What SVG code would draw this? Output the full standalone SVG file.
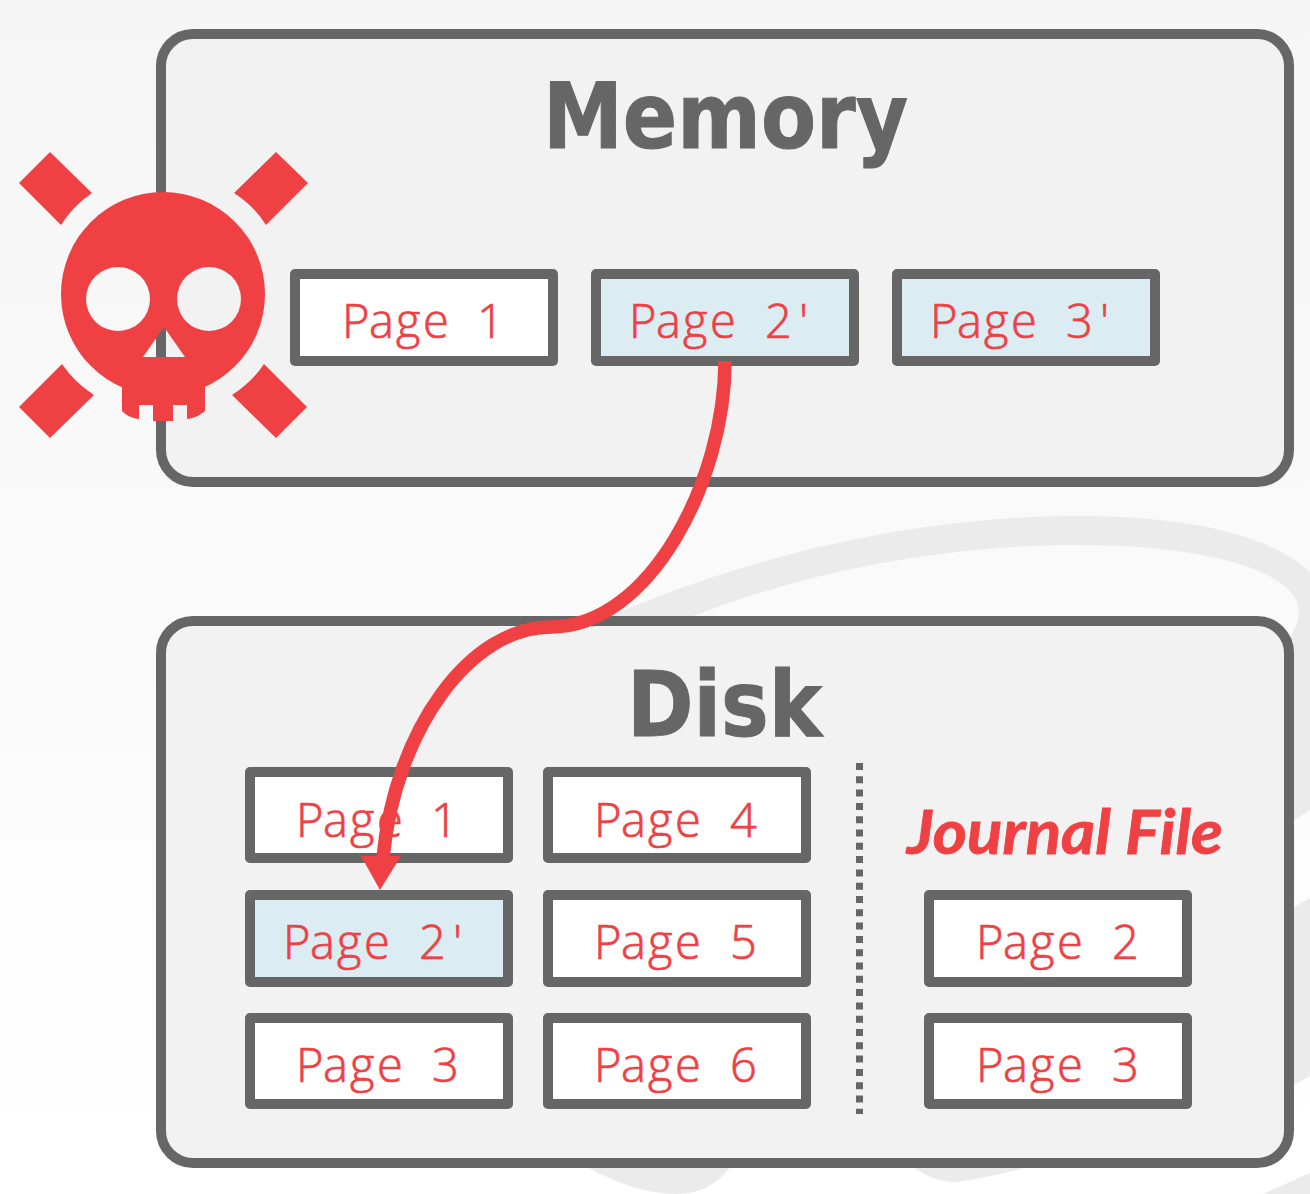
<svg xmlns="http://www.w3.org/2000/svg" width="1310" height="1194" viewBox="0 0 1310 1194">
<style>
.region{fill:#f2f2f2;stroke:#666;stroke-width:10}
.page{fill:#fff;stroke:#666;stroke-width:10;stroke-linejoin:round}
.mod{fill:#dbedf3}
.pt{font-family:"Open Sans",sans-serif;font-size:47px;font-weight:300;fill:#ef4044;stroke:#ef4044;stroke-width:.7;transform:translate(-1px,1px)}
.title{font-family:"DejaVu Sans",sans-serif;font-weight:700;font-size:90px;fill:#666;stroke:#666;stroke-width:1}
.red{fill:#ef4044}
</style>
<defs>
<linearGradient id="bg" x1="0" y1="0" x2="0" y2="1"><stop offset="0" stop-color="#f5f5f5"/><stop offset="1" stop-color="#fff"/></linearGradient>
</defs>
<rect width="1310" height="1194" fill="url(#bg)"/>
<g id="backdrop" fill="#ebebeb">
<path d="M600 620C760 550 930 516 1077 516C1190 516 1270 535 1310 572V810L1285 826L1285 645C1296 628 1299 620 1299 612C1299 575 1220 545 1077 545C950 545 800 570 672 625Z"/>
<path d="M1310 898L1285 912V1090L1310 1076Z"/>
<path d="M575 1160C600 1176 640 1194 676 1194C705 1194 722 1180 735 1160Z"/>
<path d="M905 1160C925 1178 940 1182 955 1182C975 1180 1010 1172 1037 1165Z"/>
<path d="M1263 1194L1310 1173V1194Z"/>
</g>
<g id="memory">
<rect class="region" x="161" y="34" width="1128" height="448" rx="32"/>
<text class="title" x="543" y="148" textLength="365" lengthAdjust="spacingAndGlyphs">Memory</text>
</g>
<g id="disk">
<rect class="region" x="161" y="621" width="1128" height="542" rx="32"/>
<text class="title" x="627" y="736" textLength="195" lengthAdjust="spacingAndGlyphs">Disk</text>
</g>
<g id="mem-page-1"><rect class="page" x="295" y="274" width="258" height="87"/><text class="pt" x="343 370 397 424 451 478" y="337">Page 1</text></g>
<g id="mem-page-2"><rect class="page mod" x="596" y="274" width="258" height="87"/><text class="pt" x="630 657 684 711 738 766 800" y="337">Page 2'</text></g>
<g id="mem-page-3"><rect class="page mod" x="897" y="274" width="258" height="87"/><text class="pt" x="931 958 985 1012 1039 1067 1101" y="337">Page 3'</text></g>
<g id="disk-page-1"><rect class="page" x="250" y="772" width="258" height="86"/><text class="pt" x="297 324 351 378 405 432" y="836">Page 1</text></g>
<g id="disk-page-2"><rect class="page mod" x="250" y="895" width="258" height="87"/><text class="pt" x="284 311 338 365 392 420 454" y="958">Page 2'</text></g>
<g id="disk-page-3"><rect class="page" x="250" y="1018" width="258" height="86"/><text class="pt" x="297 324 351 378 405 433" y="1081">Page 3</text></g>
<g id="disk-page-4"><rect class="page" x="548" y="772" width="258" height="86"/><text class="pt" x="595 622 649 676 703 731" y="836">Page 4</text></g>
<g id="disk-page-5"><rect class="page" x="548" y="895" width="258" height="87"/><text class="pt" x="595 622 649 676 703 731" y="958">Page 5</text></g>
<g id="disk-page-6"><rect class="page" x="548" y="1018" width="258" height="86"/><text class="pt" x="595 622 649 676 703 731" y="1081">Page 6</text></g>
<g id="journal">
<line x1="859.5" y1="763" x2="859.5" y2="1114" stroke="#666" stroke-width="7" stroke-dasharray="7 6.3"/>
<text x="907" y="854" textLength="316" lengthAdjust="spacingAndGlyphs" font-family="Lato, sans-serif" font-weight="700" font-style="italic" font-size="61" fill="#ef4044" stroke="#ef4044" stroke-width=".8">Journal File</text>
</g>
<g id="journal-page-2"><rect class="page" x="929" y="895" width="258" height="87"/><text class="pt" x="977 1004 1031 1058 1085 1113" y="958">Page 2</text></g>
<g id="journal-page-3"><rect class="page" x="929" y="1018" width="258" height="86"/><text class="pt" x="977 1004 1031 1058 1085 1113" y="1081">Page 3</text></g>
<g id="connectors">
<path d="M725 361C725 480 650 627 551 627C470 627 395 730 383 858" fill="none" stroke="#ef4044" stroke-width="13.5"/>
<path class="red" d="M361 856H401L380 890Z"/>
</g>
<g id="skull">
<path class="red" fill-rule="evenodd" d="M61 294A102 102 0 1 1 265 294A102 102 0 1 1 61 294ZM86 299A32 32 0 1 0 150 299A32 32 0 1 0 86 299ZM177 299A32 32 0 1 0 241 299A32 32 0 1 0 177 299ZM143 357H185L164 327Z"/>
<path class="red" d="M122 358H205V411C200 415 195 418 187 419V405H173V421H153V405H139V419C131 418 126 415 122 411Z"/>
<path class="red" d="M50 152L92 193Q73 206 61 225L19 183Z"/>
<path class="red" d="M276 152L308 183L266 225Q254 206 234 193Z"/>
<path class="red" d="M62 364Q74 382 94 395L50 438L19 407Z"/>
<path class="red" d="M264 364L307 407L276 438L232 395Q252 382 264 364Z"/>
</g>
</svg>
